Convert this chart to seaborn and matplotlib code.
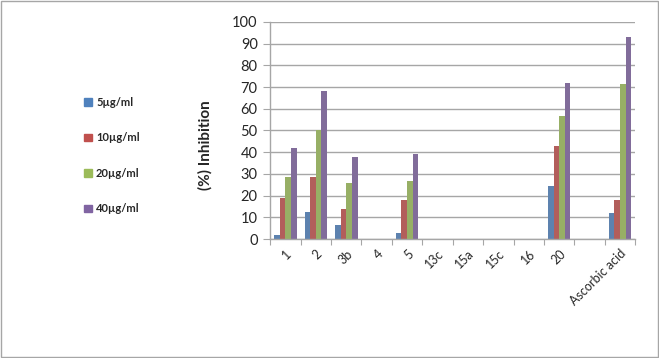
import numpy as np
import pandas as pd
import matplotlib
matplotlib.use("Agg")
import matplotlib.pyplot as plt
import seaborn as sns
from matplotlib.patches import Rectangle

categories = ["1", "2", "3b", "4", "5", "13c", "15a", "15c", "16", "20", "", "Ascorbic acid"]
series = ["5µg/ml", "10µg/ml", "20µg/ml", "40µg/ml"]
v5 = [2.0, 12.6, 6.6, np.nan, 2.8, np.nan, np.nan, np.nan, np.nan, 24.3, np.nan, 12.0]
v10 = [19.1, 28.4, 13.7, np.nan, 17.9, np.nan, np.nan, np.nan, np.nan, 43.0, np.nan, 17.9]
v20 = [28.4, 50.2, 26.0, np.nan, 26.7, np.nan, np.nan, np.nan, np.nan, 56.7, np.nan, 71.5]
v40 = [41.8, 68.0, 37.9, np.nan, 39.4, np.nan, np.nan, np.nan, np.nan, 71.8, np.nan, 92.9]
colors = ["#4F81BD", "#C0504D", "#9BBB59", "#8064A2"]

rows = []
for s, vals in zip(series, [v5, v10, v20, v40]):
    for c, v in zip(categories, vals):
        rows.append({"cat": c, "series": s, "val": v})
df = pd.DataFrame(rows)

sns.set_style("white")
plt.rcParams['font.family'] = ['Lato', 'DejaVu Sans']

fig = plt.figure(figsize=(6.59, 3.58), dpi=100)
ax = fig.add_axes([0.41, 0.332, 0.554, 0.607])

sns.barplot(data=df, x="cat", y="val", hue="series", order=categories,
            hue_order=series, palette=colors, width=0.74, gap=0,
            edgecolor="none", ax=ax, legend=False)

ax.set_ylim(0, 100)
ax.set_xlim(-0.5, len(categories) - 0.5)
ax.set_yticks(range(0, 101, 10))
ax.yaxis.grid(True, color="#A6A6A6", linewidth=1)
ax.set_axisbelow(True)
for side in ["top", "right"]:
    ax.spines[side].set_visible(False)
for side in ["left", "bottom"]:
    ax.spines[side].set_color("#A6A6A6")
    ax.spines[side].set_linewidth(1)

ax.set_xticks(np.arange(-0.5, len(categories) - 0.4, 1.0))
ax.set_xticklabels([])
ax.tick_params(axis="x", which="major", length=4, color="#A6A6A6", direction="out", bottom=True)
ax.set_xticks(np.arange(len(categories)), minor=True)
ax.set_xticklabels(categories, minor=True, rotation=45, ha="right", rotation_mode="anchor", fontsize=9)
ax.tick_params(axis="x", which="minor", length=0, pad=6)
ax.tick_params(axis="y", length=5, color="#A6A6A6", labelsize=10.5, left=True, pad=4)
ax.set_xlabel("")
ax.set_ylabel("(%) Inhibition", fontsize=11, fontweight="bold")
ax.yaxis.set_label_coords(-0.157, 0.433)

handles = [Rectangle((0, 0), 1, 1, color=c) for c in colors]
fig.legend(handles, series, loc="upper left", bbox_to_anchor=(0.112, 0.757),
           frameon=False, prop={"size": 8, "weight": "bold"},
           handlelength=0.7, handleheight=0.7,
           handletextpad=0.4, labelspacing=2.2)

fig.patches.append(Rectangle((0.001, 0.002), 0.997, 0.995, transform=fig.transFigure,
                             fill=False, edgecolor="#A6A6A6", linewidth=1))

fig.savefig("out.png", dpi=100)
